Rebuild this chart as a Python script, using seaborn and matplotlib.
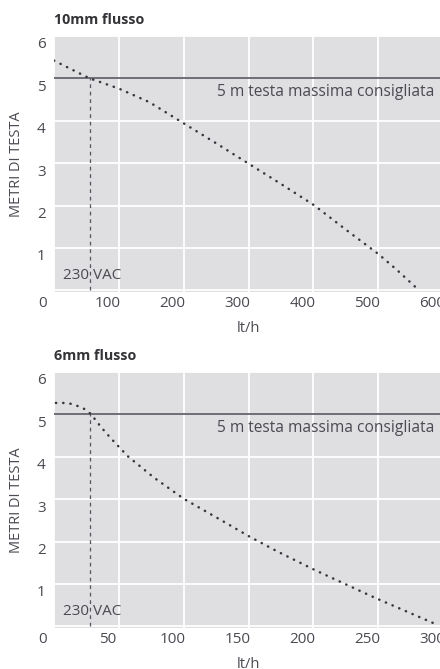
import numpy as np
import pandas as pd
import matplotlib
matplotlib.use("Agg")
import matplotlib.pyplot as plt
import matplotlib.transforms as mtransforms
import seaborn as sns

# ---- data ----
flow_10mm = [0, 55, 100, 147, 200, 250, 300, 350, 400, 458, 500, 529, 558]
head_10mm = [5.42, 5.0, 4.76, 4.44, 3.94, 3.47, 2.99, 2.51, 2.02, 1.34, 0.86, 0.48, 0.07]
flow_6mm = [1.5, 7, 13, 19, 24, 28, 32, 36, 44, 57, 77, 100, 128, 150, 172, 201, 247, 293]
head_6mm = [5.27, 5.27, 5.25, 5.19, 5.12, 5.02, 4.87, 4.71, 4.43, 4.01, 3.51, 3.01, 2.52, 2.13, 1.77, 1.33, 0.68, 0.07]
xticks_10mm = [0, 100, 200, 300, 400, 500, 600]
xticks_6mm = [0, 50, 100, 150, 200, 250, 300]
yticks = [0, 1, 2, 3, 4, 5, 6]
ytick_labels = ["", "1", "2", "3", "4", "5", "6"]
vac_10mm = 55
vac_6mm = 28
max_head = 5
titles = ["10mm flusso", "6mm flusso"]
ylabel = "METRI DI TESTA"
xlabel = "lt/h"
max_text = "5 m testa massima consigliata"
vac_text = "230 VAC"

sns.set_theme(style="darkgrid", rc={
    "axes.facecolor": "#dfdfe2",
    "grid.color": "white",
    "grid.linewidth": 1.3,
})
plt.rcParams["font.family"] = ["Open Sans", "DejaVu Sans"]

TXT = "#4a4a52"
LINE = "#35353c"

fig = plt.figure(figsize=(4.4, 6.69), dpi=100)
W, H = 440, 669

def make_ax(top_px, bottom_px):
    left = 54 / W
    width = 389 / W
    return fig.add_axes([left, (H - bottom_px) / H, width, (bottom_px - top_px) / H])

ax1 = make_ax(36, 292)
ax2 = make_ax(372, 628)

panels = [
    (ax1, flow_10mm, head_10mm, xticks_10mm, 600, vac_10mm, titles[0]),
    (ax2, flow_6mm, head_6mm, xticks_6mm, 300, vac_6mm, titles[1]),
]

for ax, fx, fy, xt, xmax, vac, title in panels:
    df = pd.DataFrame({"flow": fx, "head": fy})
    sns.lineplot(data=df, x="flow", y="head", ax=ax, color=LINE, linewidth=1.8, sort=False)
    for ln in ax.get_lines():
        ln.set_dashes((0.1, 2.8))
        ln.set_dash_capstyle("round")
        ln.set_zorder(4)
    ax.axhline(max_head, color="#555560", linewidth=1.2, zorder=3)
    ax.plot([vac, vac], [0, max_head], color="#55555d", linewidth=0.9,
            linestyle=(0, (3, 3)), zorder=3)
    ax.set_xlim(0, xmax)
    ax.set_ylim(-0.04, 5.96)
    ax.set_xticks(xt)
    ax.set_xticklabels([str(v) for v in xt])
    ax.set_yticks(yticks)
    ax.set_yticklabels(ytick_labels)
    ax.tick_params(axis="both", length=0, labelsize=11, colors=TXT)
    ax.tick_params(axis="x", pad=3)
    ax.tick_params(axis="y", pad=6)
    for s in ax.spines.values():
        s.set_visible(False)
    ax.set_xlabel(xlabel, fontsize=10.5, color=TXT, labelpad=7)
    ax.set_ylabel(ylabel, fontsize=10.5, color=TXT, labelpad=9)
    ax.set_title(title, loc="left", fontsize=10.3, fontweight="bold", color="#333338", pad=9)
    ax.text(0.979, 0.781, max_text, transform=ax.transAxes, ha="right", va="center",
            fontsize=11.2, color=TXT)
    ax.text(0.024, 0.066, vac_text, transform=ax.transAxes, ha="left", va="center",
            fontsize=11, color=TXT)
    offx = mtransforms.ScaledTranslation(-11 / 100, 0, fig.dpi_scale_trans)
    for lab in ax.get_xticklabels():
        lab.set_transform(lab.get_transform() + offx)
    offy = mtransforms.ScaledTranslation(0, -7 / 100, fig.dpi_scale_trans)
    for lab in ax.get_yticklabels():
        lab.set_transform(lab.get_transform() + offy)

fig.savefig("out.png", dpi=100)
